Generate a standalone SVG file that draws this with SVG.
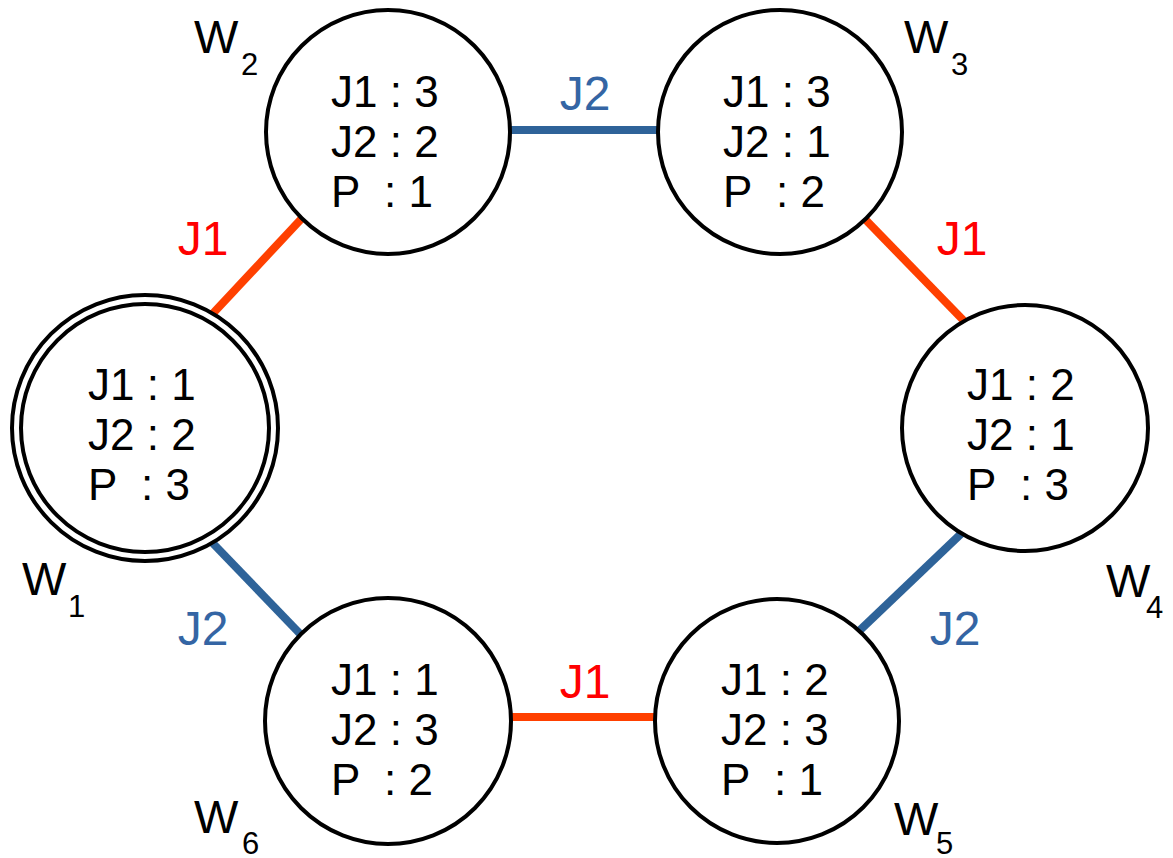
<svg xmlns="http://www.w3.org/2000/svg" width="1173" height="858" viewBox="0 0 1173 858">
<style>
.n{fill:#fff;stroke:#000;stroke-width:4}
.t{font-family:"Liberation Sans",Arial,sans-serif;font-size:44px;fill:#000}
.w{font-family:"Liberation Sans",Arial,sans-serif;font-size:47px;fill:#000}
.s{font-family:"Liberation Sans",Arial,sans-serif;font-size:31px;fill:#000}
.j1{stroke:#FF4000;stroke-width:8;fill:none}
.j2{stroke:#2E6399;stroke-width:8;fill:none}
.l1{font-family:"Liberation Sans",Arial,sans-serif;font-size:48px;fill:#FF0000;text-anchor:middle}
.l2{font-family:"Liberation Sans",Arial,sans-serif;font-size:48px;fill:#3465A4;text-anchor:middle}
</style>
<rect width="1173" height="858" fill="#fff"/>
<g id="connectors">
<line class="j2" x1="505" y1="130" x2="665" y2="130"/>
<line class="j1" x1="505" y1="717" x2="663" y2="717"/>
<line class="j1" x1="305" y1="215" x2="204" y2="323"/>
<line class="j2" x1="202" y1="532" x2="306" y2="640"/>
<line class="j1" x1="860" y1="214" x2="966" y2="323"/>
<line class="j2" x1="965" y1="530" x2="857" y2="633"/>
<text class="l2" x="585" y="110">J2</text>
<text class="l1" x="585" y="698">J1</text>
<text class="l1" x="203" y="255">J1</text>
<text class="l2" x="203" y="645">J2</text>
<text class="l1" x="962" y="255">J1</text>
<text class="l2" x="955" y="645">J2</text>
</g>
<g id="W1">
<circle class="n" cx="145" cy="428" r="133"/>
<circle class="n" cx="145" cy="428" r="124"/>
<text class="t" xml:space="preserve"><tspan x="88" y="400">J1 : 1</tspan><tspan x="88" y="450">J2 : 2</tspan><tspan x="88" y="500">P  : 3</tspan></text>
<text class="w" x="22" y="595">W</text><text class="s" x="68" y="617">1</text>
</g>
<g id="W2">
<circle class="n" cx="388" cy="132" r="122"/>
<text class="t" xml:space="preserve"><tspan x="331" y="107">J1 : 3</tspan><tspan x="331" y="157">J2 : 2</tspan><tspan x="331" y="207">P  : 1</tspan></text>
<text class="w" x="194" y="53">W</text><text class="s" x="241" y="75">2</text>
</g>
<g id="W3">
<circle class="n" cx="780" cy="132" r="122"/>
<text class="t" xml:space="preserve"><tspan x="723" y="107">J1 : 3</tspan><tspan x="723" y="157">J2 : 1</tspan><tspan x="723" y="207">P  : 2</tspan></text>
<text class="w" x="904" y="53">W</text><text class="s" x="951" y="75">3</text>
</g>
<g id="W4">
<circle class="n" cx="1025" cy="428" r="123"/>
<text class="t" xml:space="preserve"><tspan x="967" y="400">J1 : 2</tspan><tspan x="967" y="450">J2 : 1</tspan><tspan x="967" y="500">P  : 3</tspan></text>
<text class="w" x="1106" y="597">W</text><text class="s" x="1146" y="618">4</text>
</g>
<g id="W5">
<circle class="n" cx="777" cy="721" r="122"/>
<text class="t" xml:space="preserve"><tspan x="721" y="695">J1 : 2</tspan><tspan x="721" y="745">J2 : 3</tspan><tspan x="721" y="795">P  : 1</tspan></text>
<text class="w" x="894" y="835">W</text><text class="s" x="936" y="854">5</text>
</g>
<g id="W6">
<circle class="n" cx="388" cy="721" r="123"/>
<text class="t" xml:space="preserve"><tspan x="331" y="695">J1 : 1</tspan><tspan x="331" y="745">J2 : 3</tspan><tspan x="331" y="795">P  : 2</tspan></text>
<text class="w" x="194" y="833">W</text><text class="s" x="242" y="854">6</text>
</g>
</svg>
